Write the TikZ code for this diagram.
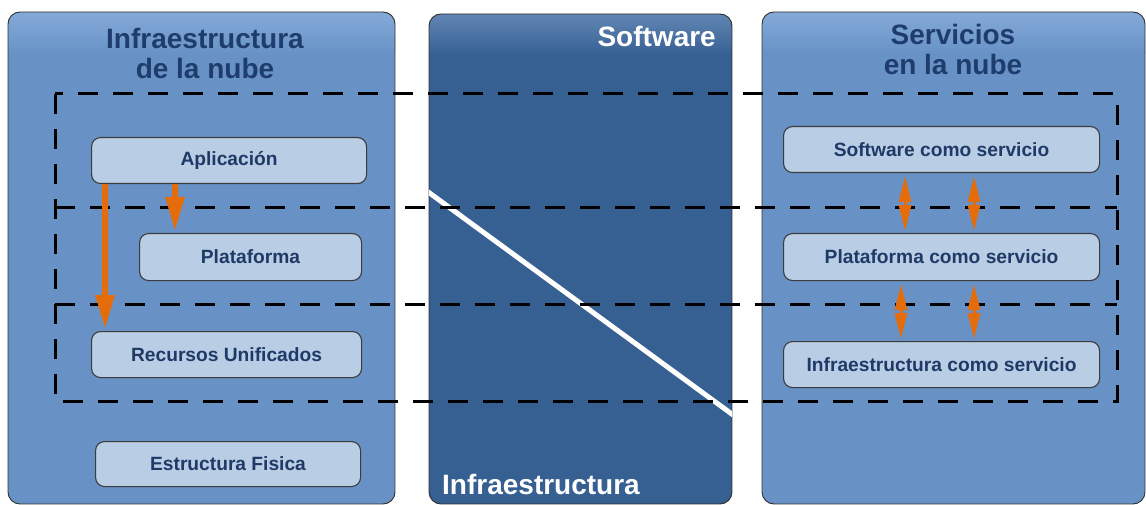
\documentclass[tikz,border=0pt]{standalone}
\usepackage{fontspec}
\setmainfont{Liberation Sans}
\usetikzlibrary{arrows.meta,calc}

\definecolor{panelblue}{HTML}{6892C6}
\definecolor{paneltop}{HTML}{84AAD8}
\definecolor{darkpanel}{HTML}{365F92}
\definecolor{darktop}{HTML}{6186B4}
\definecolor{boxfill}{HTML}{B9CDE5}
\definecolor{boxline}{HTML}{3C3C3C}
\definecolor{navytext}{HTML}{1F3A66}
\definecolor{titletext}{HTML}{1E3D6C}
\definecolor{arroworange}{HTML}{E46C0A}

\tikzset{
  panelframe/.style={draw=boxline!80!black, line width=0.9pt, rounded corners=12pt},
  layerbox/.style={rectangle, rounded corners=9pt, draw=boxline, line width=1.1pt,
    fill=boxfill, text=navytext, font=\bfseries\fontsize{19.2}{22}\selectfont,
    inner sep=0pt, anchor=north west},
  paneltitle/.style={align=center, text=titletext, inner sep=0pt,
    font=\bfseries\fontsize{28}{30}\selectfont},
  layerline/.style={black, line width=3pt, dash pattern=on 20pt off 15pt},
  downarrow/.style={arroworange, line width=6pt,
    -{Triangle[width=18pt,length=34pt]}},
  twoway/.style={arroworange, line width=3pt,
    {Triangle[width=12pt,length=26pt]}-{Triangle[width=12pt,length=26pt]}},
}

\begin{document}
\begin{tikzpicture}[x=1pt,y=-1pt]
\useasboundingbox (0,0) rectangle (1146,505);

% three columns
\foreach \xa/\xb/\ya/\base/\top in {8/395/12/panelblue/paneltop,
                                   429/732/14/darkpanel/darktop,
                                   762/1145/12/panelblue/paneltop}{
  \begin{scope}
    \clip[rounded corners=12pt] (\xa,\ya) rectangle (\xb,504);
    \fill[\base] (\xa,\ya) rectangle (\xb,504);
    \shade[top color=\top, bottom color=\base] (\xa,\ya) rectangle (\xb,\ya+42);
  \end{scope}
  \draw[panelframe] (\xa,\ya) rectangle (\xb,504);
}

% software / infrastructure split
\begin{scope}
  \clip (429,14) rectangle (732,504);
  \draw[white, line width=5pt] (420,186) -- (740,420);
\end{scope}

% column headings
\node[paneltitle] (titleleft) at (205,53) {Infraestructura\\de la nube};
\node[paneltitle] (titleright) at (953,49) {Servicios\\en la nube};
\node[paneltitle, text=white, anchor=base east] (titlesw) at (716,47) {Software};
\node[paneltitle, text=white, anchor=base west] (titleinf) at (442,494) {Infraestructura};

% layer bands
\draw[layerline] (55,94) rectangle (1117,401);
\draw[layerline] (55,208) -- (1117,208);
\draw[layerline] (55,304) -- (1117,304);

% cloud infrastructure stack
\node[layerbox, minimum width=275pt, minimum height=46pt] (apl) at (91,137) {Aplicación};
\node[layerbox, minimum width=222pt, minimum height=47pt] (plat) at (139,233) {Plataforma};
\node[layerbox, minimum width=270pt, minimum height=46pt] (rec) at (91,331) {Recursos Unificados};
\node[layerbox, minimum width=265pt, minimum height=45pt] (fis) at (95,441) {Estructura Fisica};

% cloud services stack
\node[layerbox, minimum width=316pt, minimum height=46pt] (saas) at (783,126) {Software como servicio};
\node[layerbox, minimum width=316pt, minimum height=47pt] (paas) at (783,233) {Plataforma como servicio};
\node[layerbox, minimum width=316pt, minimum height=46pt] (iaas) at (783,341) {Infraestructura como servicio};

% dependencies
\draw[downarrow] ([xshift=14pt]apl.south west) -- ([xshift=14pt,yshift=2pt]rec.north west);
\draw[downarrow] ([xshift=84pt]apl.south west) -- ([xshift=36pt,yshift=2pt]plat.north west);

\draw[twoway] ([xshift=122pt,yshift=-3pt]saas.south west) -- ([xshift=122pt,yshift=2pt]paas.north west);
\draw[twoway] ([xshift=191pt,yshift=-3pt]saas.south west) -- ([xshift=191pt,yshift=2pt]paas.north west);
\draw[twoway] ([xshift=118pt,yshift=-3pt]paas.south west) -- ([xshift=118pt,yshift=2pt]iaas.north west);
\draw[twoway] ([xshift=191pt,yshift=-3pt]paas.south west) -- ([xshift=191pt,yshift=2pt]iaas.north west);
\end{tikzpicture}
\end{document}
